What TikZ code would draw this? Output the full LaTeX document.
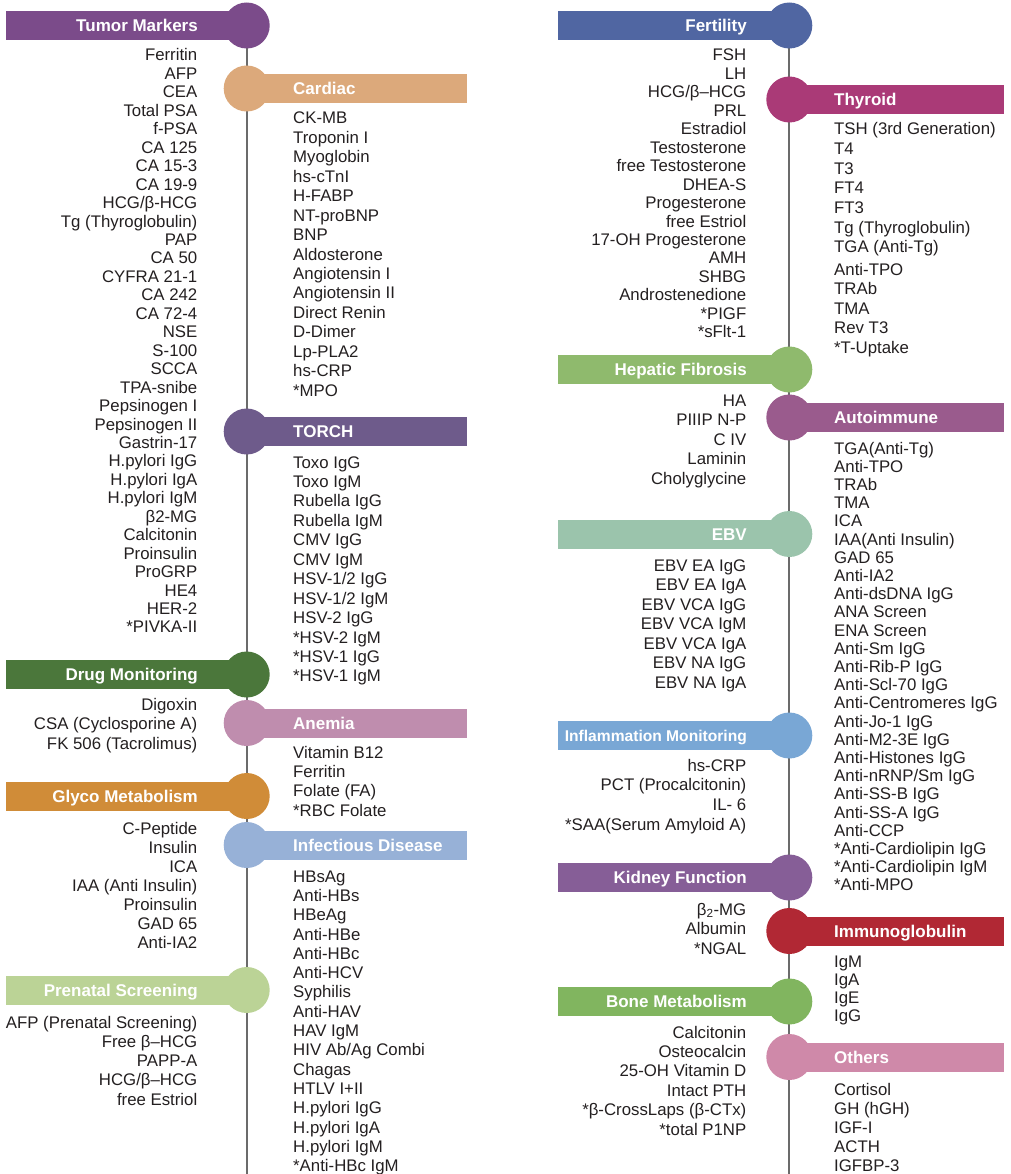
\documentclass[tikz,border=0pt]{standalone}
\usepackage{fontspec}
\setmainfont{Liberation Sans}
\definecolor{txt}{HTML}{231F20}
\definecolor{spinec}{HTML}{6B6B6B}
\definecolor{cTumor}{HTML}{7B4B8A}
\definecolor{cCardiac}{HTML}{DCA97B}
\definecolor{cTorch}{HTML}{6E5B8B}
\definecolor{cDrug}{HTML}{4B773B}
\definecolor{cAnemia}{HTML}{BF8DAE}
\definecolor{cGlyco}{HTML}{D08C38}
\definecolor{cInfect}{HTML}{97B1D7}
\definecolor{cPrenatal}{HTML}{BBD396}
\definecolor{cFert}{HTML}{5066A2}
\definecolor{cThyroid}{HTML}{AA3A77}
\definecolor{cHepatic}{HTML}{8FBA6D}
\definecolor{cAuto}{HTML}{9A5B8D}
\definecolor{cEBV}{HTML}{9BC4AC}
\definecolor{cInflam}{HTML}{79A7D5}
\definecolor{cKidney}{HTML}{865E97}
\definecolor{cImmuno}{HTML}{B12834}
\definecolor{cBone}{HTML}{81B55F}
\definecolor{cOthers}{HTML}{CF89A9}
\newcommand\itemfont{\fontsize{16.8}{18}\selectfont}
\newcommand\hdrfont{\fontsize{17}{18}\selectfont\bfseries}
\tikzset{
  spine/.style={draw=spinec, line width=2pt},
  dot/.style={circle, minimum size=46pt, inner sep=0pt, draw=none},
  itemR/.style={anchor=base east, inner sep=0pt, font=\itemfont, text=txt},
  itemL/.style={anchor=base west, inner sep=0pt, font=\itemfont, text=txt},
  hdrR/.style={anchor=base east, inner sep=0pt, font=\hdrfont, text=white},
  hdrL/.style={anchor=base west, inner sep=0pt, font=\hdrfont, text=white},
}
% bar to the left of the spine: name, linex, cy, barleft, textx, color, text
\newcommand\barLeft[7]{%
  \fill[#6] (#4,{#3-14.5}) rectangle (#2,{#3+14.5});
  \node[dot, fill=#6] (#1-c) at (#2,#3) {};
  \node[hdrR] (#1) at (#5,{#3+6}) {#7};
}
% bar to the right of the spine: name, linex, cy, barright, textx, color, text
\newcommand\barRight[7]{%
  \fill[#6] (#2,{#3-14.5}) rectangle (#4,{#3+14.5});
  \node[dot, fill=#6] (#1-c) at (#2,#3) {};
  \node[hdrL] (#1) at (#5,{#3+6}) {#7};
}
% item lists: name, x, first centre y, step, items
\newcommand\listR[5]{%
  \foreach \lbl [count=\i from 0] in {#5} {
    \node[itemR] (#1-\i) at (#2,{#3+\i*#4+6}) {\lbl};
  }
}
\newcommand\listL[5]{%
  \foreach \lbl [count=\i from 0] in {#5} {
    \node[itemL] (#1-\i) at (#2,{#3+\i*#4+6}) {\lbl};
  }
}
\begin{document}
\begin{tikzpicture}[x=1pt,y=-1pt]
\useasboundingbox (0,0) rectangle (1010,1174);
% spines
\coordinate (Ltop) at (246.7,25);
\coordinate (Lbot) at (246.7,1174);
\coordinate (Rtop) at (789.3,25);
\coordinate (Rbot) at (789.3,1174);
\draw[spine] (Ltop) -- (Lbot);
\draw[spine] (Rtop) -- (Rbot);

% ---------- left half ----------
\barLeft{tum}{246.7}{25.5}{6}{198}{cTumor}{Tumor Markers}
\barRight{car}{246.7}{88.5}{467}{293}{cCardiac}{Cardiac}
\barRight{tor}{246.7}{431.5}{467}{293}{cTorch}{TORCH}
\barLeft{drug}{246.7}{674.5}{6}{198}{cDrug}{Drug Monitoring}
\barRight{ane}{246.7}{723}{467}{293}{cAnemia}{Anemia}
\barLeft{gly}{246.7}{796}{6}{198}{cGlyco}{Glyco Metabolism}
\barRight{inf}{246.7}{845}{467}{293}{cInfect}{Infectious Disease}
\barLeft{pre}{246.7}{990}{6}{198}{cPrenatal}{Prenatal Screening}

\listR{tumI}{197.5}{55}{18.45}{Ferritin,AFP,CEA,Total PSA,f-PSA,CA 125,CA 15-3,CA 19-9,HCG/β-HCG,Tg (Thyroglobulin),PAP,CA 50,CYFRA 21-1,CA 242,CA 72-4,NSE,S-100,SCCA,TPA-snibe,Pepsinogen I,Pepsinogen II,Gastrin-17,H.pylori IgG,H.pylori IgA,H.pylori IgM,β2-MG,Calcitonin,Proinsulin,ProGRP,HE4,HER-2,*PIVKA-II}
\listR{drugI}{197.5}{704}{19.5}{Digoxin,CSA (Cyclosporine A),FK 506 (Tacrolimus)}
\listR{glyI}{197.5}{828}{19.0}{C-Peptide,Insulin,ICA,IAA (Anti Insulin),Proinsulin,GAD 65,Anti-IA2}
\listR{preI}{197.5}{1022}{19.3}{AFP (Prenatal Screening),Free β–HCG,PAPP-A,HCG/β–HCG,free Estriol}

\listL{carI}{293}{118}{19.43}{CK-MB,Troponin I,Myoglobin,hs-cTnI,H-FABP,NT-proBNP,BNP,Aldosterone,Angiotensin I,Angiotensin II,Direct Renin,D-Dimer,Lp-PLA2,hs-CRP,*MPO}
\listL{torI}{293}{462}{19.45}{Toxo IgG,Toxo IgM,Rubella IgG,Rubella IgM,CMV IgG,CMV IgM,HSV-1/2 IgG,HSV-1/2 IgM,HSV-2 IgG,*HSV-2 IgM,*HSV-1 IgG,*HSV-1 IgM}
\listL{aneI}{293}{752}{19.4}{Vitamin B12,Ferritin,Folate (FA),*RBC Folate}
\listL{infI}{293}{876}{19.33}{HBsAg,Anti-HBs,HBeAg,Anti-HBe,Anti-HBc,Anti-HCV,Syphilis,Anti-HAV,HAV IgM,HIV Ab/Ag Combi,Chagas,HTLV I+II,H.pylori IgG,H.pylori IgA,H.pylori IgM,*Anti-HBc IgM}

% ---------- right half ----------
\barLeft{fer}{789.3}{25.5}{558}{747}{cFert}{Fertility}
\barRight{thy}{789.3}{99.5}{1004}{834}{cThyroid}{Thyroid}
\barLeft{hep}{789.3}{369.5}{558}{747}{cHepatic}{Hepatic Fibrosis}
\barRight{aut}{789.3}{417.5}{1004}{834}{cAuto}{Autoimmune}
\barLeft{ebv}{789.3}{534}{558}{747}{cEBV}{EBV}
\barLeft{inm}{789.3}{735.5}{558}{747}{cInflam}{\fontsize{15.6}{16}\selectfont Inflammation Monitoring}
\barLeft{kid}{789.3}{877.5}{558}{747}{cKidney}{Kidney Function}
\barRight{imm}{789.3}{931}{1004}{834}{cImmuno}{Immunoglobulin}
\barLeft{bon}{789.3}{1001.5}{558}{747}{cBone}{Bone Metabolism}
\barRight{oth}{789.3}{1057}{1004}{834}{cOthers}{Others}

\listR{ferI}{746.5}{55}{18.45}{FSH,LH,HCG/β–HCG,PRL,Estradiol,Testosterone,free Testosterone,DHEA-S,Progesterone,free Estriol,17-OH Progesterone,AMH,SHBG,Androstenedione,*PIGF,*sFlt-1}
\listR{hepI}{746.5}{400}{19.5}{HA,PIIIP N-P,C IV,Laminin,Cholyglycine}
\listR{ebvI}{746.5}{565}{19.5}{EBV EA IgG,EBV EA IgA,EBV VCA IgG,EBV VCA IgM,EBV VCA IgA,EBV NA IgG,EBV NA IgA}
\listR{inmI}{746.5}{765}{19.67}{hs-CRP,PCT (Procalcitonin),IL- 6,*SAA(Serum Amyloid A)}
\listR{kidI}{746.5}{909}{19.5}{{β\textsubscript{2}-MG},Albumin,*NGAL}
\listR{bonI}{746.5}{1032}{19.4}{Calcitonin,Osteocalcin,25-OH Vitamin D,Intact PTH,*β-CrossLaps (β-CTx),*total P1NP}

\listL{thyI}{834}{129}{19.6}{TSH (3rd Generation),T4,T3,FT4,FT3,Tg (Thyroglobulin),TGA (Anti-Tg)}
\listL{thyJ}{834}{269}{19.5}{Anti-TPO,TRAb,TMA,Rev T3,*T-Uptake}
\listL{autI}{834}{448}{18.2}{TGA(Anti-Tg),Anti-TPO,TRAb,TMA,ICA,IAA(Anti Insulin),GAD 65,Anti-IA2,Anti-dsDNA IgG,ANA Screen,ENA Screen,Anti-Sm IgG,Anti-Rib-P IgG,Anti-Scl-70 IgG,Anti-Centromeres IgG,Anti-Jo-1 IgG,Anti-M2-3E IgG,Anti-Histones IgG,Anti-nRNP/Sm IgG,Anti-SS-B IgG,Anti-SS-A IgG,Anti-CCP,*Anti-Cardiolipin IgG,*Anti-Cardiolipin IgM,*Anti-MPO}
\listL{immI}{834}{961}{18.3}{IgM,IgA,IgE,IgG}
\listL{othI}{834}{1089}{19.0}{Cortisol,GH (hGH),IGF-I,ACTH,IGFBP-3}
\end{tikzpicture}
\end{document}
